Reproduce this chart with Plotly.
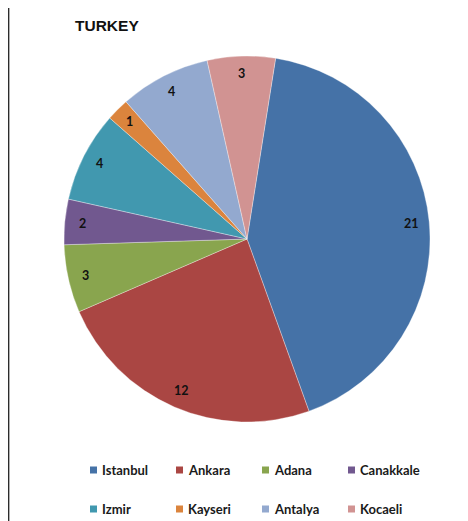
import math
import plotly.graph_objects as go

# ---- data ----
cities = ["Istanbul", "Ankara", "Adana", "Canakkale", "Izmir", "Kayseri", "Antalya", "Kocaeli"]
counts = [21, 12, 3, 2, 4, 1, 4, 3]
colors = ["#4572A7", "#AA4643", "#89A54E", "#71588F", "#4198AF", "#DB843D", "#93A9CF", "#D19392"]
title_text = "TURKEY"

# ---- layout constants (page pixels) ----
OFF = 8                      # default body margin of the html page
W, H = 468 - OFF, 521 - OFF  # figure size
CX, CY, R = 247, 239, 183
START_DEG = 9
LABEL_FRAC = 0.905


def px(x):
    return (x - OFF) / W


def py(y):
    return 1 - (y - OFF) / H


fig = go.Figure(
    go.Pie(
        labels=cities,
        values=counts,
        sort=False,
        direction="clockwise",
        rotation=START_DEG,
        marker=dict(colors=colors, line=dict(color="rgba(255,255,255,0.55)", width=0.6)),
        textinfo="none",
        hoverinfo="label+value",
        domain=dict(x=[px(CX - R), px(CX + R)], y=[py(CY + R), py(CY - R)]),
        showlegend=False,
    )
)

annotations = []
shapes = []

# data labels placed near the outer edge of each slice (computed from values)
total = sum(counts)
cum = 0
for name, v in zip(cities, counts):
    mid = START_DEG + (cum + v / 2) / total * 360
    cum += v
    a = math.radians(mid)
    lx = CX + LABEL_FRAC * R * math.sin(a)
    ly = CY - LABEL_FRAC * R * math.cos(a)
    annotations.append(dict(
        x=px(lx), y=py(ly), xref="paper", yref="paper",
        text=str(v), showarrow=False, xanchor="center", yanchor="middle",
        font=dict(family="Lato", size=12.5, color="#111111", weight="bold"),
    ))

# title
annotations.append(dict(
    x=px(73), y=py(25), xref="paper", yref="paper", text=title_text,
    showarrow=False, xanchor="left", yanchor="middle",
    font=dict(family="Liberation Sans", size=15.5, color="#111111", weight="bold"),
))

# legend (two rows of four)
for i, (name, col) in enumerate(zip(cities, colors)):
    c, r = i % 4, i // 4
    sx = 90 + 86 * c
    sy = 470 + 39 * r
    shapes.append(dict(
        type="rect", xref="paper", yref="paper",
        x0=px(sx), x1=px(sx + 7), y0=py(sy + 3.5), y1=py(sy - 3.5),
        fillcolor=col, line=dict(width=0),
    ))
    annotations.append(dict(
        x=px(sx + 10), y=py(sy), xref="paper", yref="paper", text=name,
        showarrow=False, xanchor="left", yanchor="middle",
        font=dict(family="Lato", size=13, color="#1a1a1a", weight="bold"),
    ))

# left border line
shapes.append(dict(
    type="line", xref="paper", yref="paper",
    x0=px(8.7), x1=px(8.7), y0=0, y1=1,
    line=dict(color="#222222", width=1.3),
))

fig.update_layout(
    width=W, height=H,
    margin=dict(l=0, r=0, t=0, b=0),
    paper_bgcolor="white", plot_bgcolor="white",
    annotations=annotations, shapes=shapes,
    showlegend=False,
)

fig.write_html("out.html")
